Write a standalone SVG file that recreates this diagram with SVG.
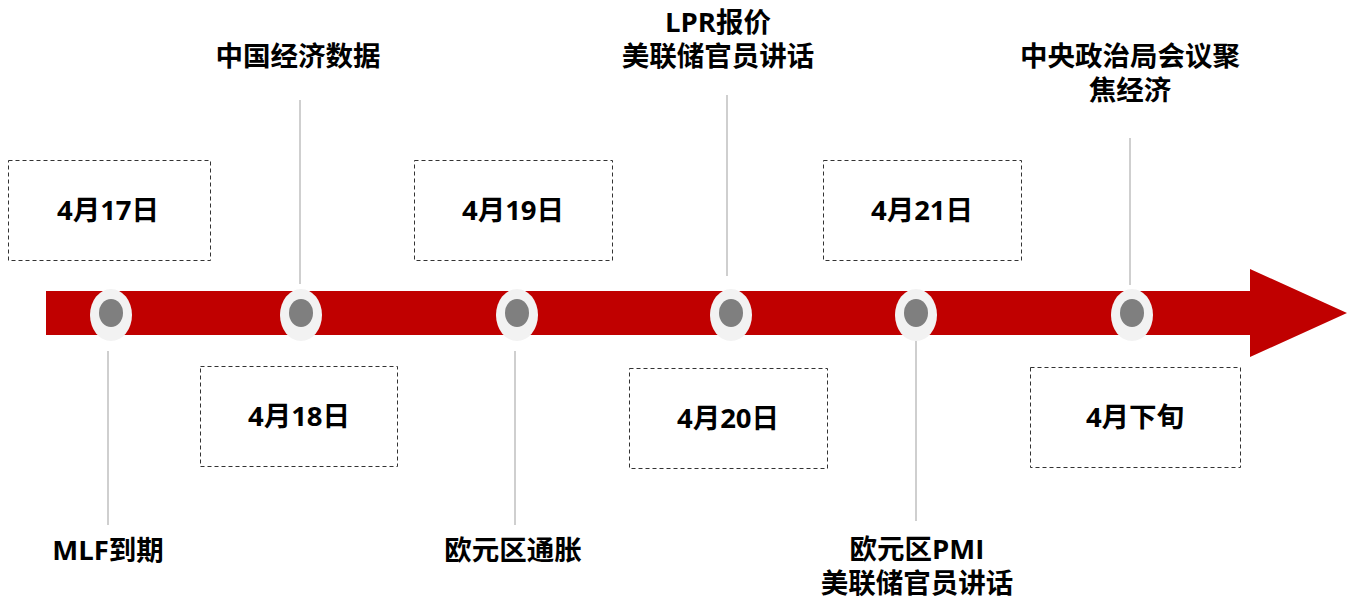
<svg xmlns="http://www.w3.org/2000/svg" width="1351" height="601" viewBox="0 0 1351 601">
<style>
.t{font-family:"Open Sans","Noto Sans CJK SC",sans-serif;font-weight:bold;font-size:27.5px;fill:#000;text-anchor:middle}
.box{fill:none;stroke:#333;stroke-width:1;stroke-dasharray:4 3}
.ln{stroke:#bfbfbf;stroke-width:1.5;fill:none}
.ro{fill:#f2f2f2}
.ri{fill:#7f7f7f}
</style>
<rect width="1351" height="601" fill="#fff"/>
<g id="connectors">
<line class="ln" x1="108" y1="351" x2="108" y2="525"/>
<line class="ln" x1="300" y1="100" x2="300" y2="284"/>
<line class="ln" x1="515" y1="351" x2="515" y2="525"/>
<line class="ln" x1="727" y1="95" x2="727" y2="276"/>
<line class="ln" x1="916" y1="341" x2="916" y2="521"/>
<line class="ln" x1="1130" y1="138" x2="1130" y2="285"/>
</g>
<g id="arrow">
<polygon fill="#c00000" points="46,291 1250,291 1250,269 1347,313 1250,357 1250,335 46,335"/>
</g>
<g id="dot1"><ellipse class="ro" cx="111" cy="315" rx="21" ry="26"/><ellipse class="ri" cx="111" cy="313" rx="12" ry="14"/></g>
<g id="dot2"><ellipse class="ro" cx="301" cy="315" rx="21" ry="26"/><ellipse class="ri" cx="301" cy="313" rx="12" ry="14"/></g>
<g id="dot3"><ellipse class="ro" cx="517" cy="315" rx="21" ry="26"/><ellipse class="ri" cx="517" cy="313" rx="12" ry="14"/></g>
<g id="dot4"><ellipse class="ro" cx="731" cy="315" rx="21" ry="26"/><ellipse class="ri" cx="731" cy="313" rx="12" ry="14"/></g>
<g id="dot5"><ellipse class="ro" cx="916" cy="315" rx="21" ry="26"/><ellipse class="ri" cx="916" cy="313" rx="12" ry="14"/></g>
<g id="dot6"><ellipse class="ro" cx="1132" cy="315" rx="21" ry="26"/><ellipse class="ri" cx="1132" cy="313" rx="12" ry="14"/></g>
<g id="d417"><rect class="box" x="8.5" y="160.5" width="202" height="100"/><text class="t" x="108" y="220">4月17日</text></g>
<g id="d418"><rect class="box" x="200.5" y="366.5" width="197" height="100"/><text class="t" x="299" y="426">4月18日</text></g>
<g id="d419"><rect class="box" x="414.5" y="160.5" width="198" height="100"/><text class="t" x="513" y="220">4月19日</text></g>
<g id="d420"><rect class="box" x="629.5" y="368.5" width="198" height="100"/><text class="t" x="728" y="428">4月20日</text></g>
<g id="d421"><rect class="box" x="823.5" y="160.5" width="198" height="100"/><text class="t" x="922" y="220">4月21日</text></g>
<g id="dlate"><rect class="box" x="1030.5" y="367.5" width="210" height="100"/><text class="t" x="1135" y="427">4月下旬</text></g>
<g id="e1"><text class="t" x="108" y="560">MLF到期</text></g>
<g id="e2"><text class="t" x="298" y="66">中国经济数据</text></g>
<g id="e3"><text class="t" x="513" y="560">欧元区通胀</text></g>
<g id="e4"><text class="t" x="718" y="32">LPR报价</text><text class="t" x="718" y="66">美联储官员讲话</text></g>
<g id="e5"><text class="t" x="917" y="559">欧元区PMI</text><text class="t" x="917" y="593">美联储官员讲话</text></g>
<g id="e6"><text class="t" x="1130" y="66">中央政治局会议聚</text><text class="t" x="1130" y="100">焦经济</text></g>
</svg>
